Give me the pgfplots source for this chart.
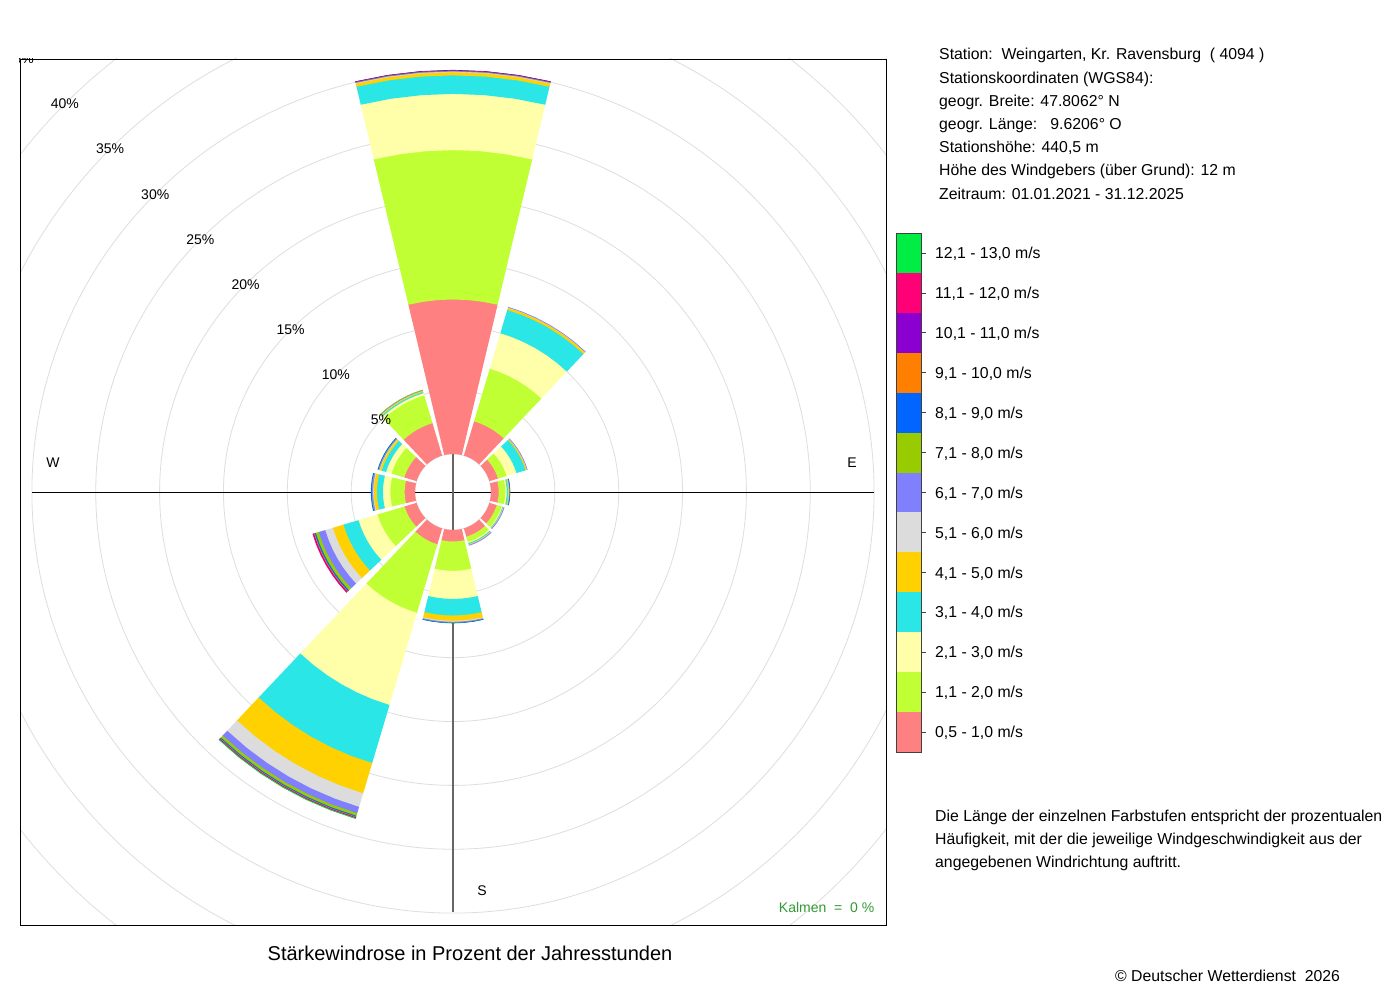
\documentclass[border=0pt]{standalone}
\usepackage{fontspec}
\setmainfont{Liberation Sans}
\usepackage{pgfplots}
\usepackage{pgfplotstable}
\pgfplotsset{compat=1.18}

\definecolor{wc1}{HTML}{FF8080}
\definecolor{wc2}{HTML}{C0FF33}
\definecolor{wc3}{HTML}{FFFFAA}
\definecolor{wc4}{HTML}{2AE6E6}
\definecolor{wc5}{HTML}{FFD100}
\definecolor{wc6}{HTML}{DCDCDC}
\definecolor{wc7}{HTML}{8080FF}
\definecolor{wc8}{HTML}{99CC00}
\definecolor{wc9}{HTML}{0066FF}
\definecolor{wc10}{HTML}{FF8000}
\definecolor{wc11}{HTML}{8B00D0}
\definecolor{wc12}{HTML}{FF0077}
\definecolor{wc13}{HTML}{00EE44}
\definecolor{kalm}{HTML}{339933}

% percentage of hours per direction (rows) and speed class (columns c1..c13)
\pgfplotstableread{
dir c1   c2   c3   c4   c5   c6   c7   c8   c9   c10  c11  c12  c13
0   12.1 11.7 4.4  1.45 0.25 0.05 0.03 0.02 0.02 0.01 0.01 0    0
30  2.8  4.3  2.9  1.9  0.18 0.02 0.01 0    0    0    0    0    0
60  0.7  0.71 0.8  0.74 0.1  0.02 0.01 0    0    0    0    0    0
90  0.6  0.52 0.11 0.1  0.06 0.03 0.03 0.01 0.01 0    0    0    0
120 0.6  0.4  0.07 0.05 0.03 0.02 0.02 0    0    0    0    0    0
150 0.68 0.43 0.09 0.08 0.05 0.02 0.02 0    0    0    0    0    0
180 0.9  2.3  2.2  1.3  0.41 0.08 0.05 0.02 0.01 0    0    0    0
210 1.3  5.6  7.53 4.75 2.47 1.11 0.52 0.21 0.08 0.05 0.03 0.03 0.02
240 0.98 2.22 1.55 1.23 0.86 0.63 0.53 0.24 0.1  0.06 0.04 0.03 0
270 0.81 1.12 0.58 0.47 0.24 0.06 0.08 0.03 0.03 0    0    0    0
300 1.0  1.05 0.45 0.35 0.15 0.05 0.05 0.03 0.02 0    0    0    0
330 2.65 2.27 0.18 0.1  0.07 0.03 0.03 0.01 0    0    0    0    0
}\windtable

\newcommand\fs[1]{\fontsize{#1}{#1}\selectfont}

% one annular piece: #1 direction (deg, clockwise from N), #2 inner r, #3 outer r, #4 colour
\newcommand\sectorpiece[4]{%
  \pgfmathsetmacro\aA{90-#1-13.4}%
  \pgfmathsetmacro\aB{\aA+4.4667}%
  \pgfmathsetmacro\aC{\aA+8.9333}%
  \pgfmathsetmacro\aD{\aA+13.4}%
  \pgfmathsetmacro\aE{\aA+17.8667}%
  \pgfmathsetmacro\aF{\aA+22.3333}%
  \pgfmathsetmacro\aG{\aA+26.8}%
  \edef\tmp{\noexpand\addplot[data cs=polar, fill=#4, draw=none, forget plot] coordinates {(\aA,#2) (\aA,#3) (\aB,#3) (\aC,#3) (\aD,#3) (\aE,#3) (\aF,#3) (\aG,#3) (\aG,#2) (\aF,#2) (\aE,#2) (\aD,#2) (\aC,#2) (\aB,#2)};}%
  \tmp
}

\newcommand\legentry[3]{%
  \fill[#2] (896,{767-39.92*#1}) rectangle (921,{767-39.92*(#1+1)});
  \draw[black!75, line width=0.7pt] (921,{767-39.92*(#1+0.5)}) -- (926,{767-39.92*(#1+0.5)});
  \node[anchor=base west, inner sep=0pt, font={\fs{15.8}}] at (935,{767-39.92*(#1+0.5)-5.7}) {#3};
}

\begin{document}
\begin{tikzpicture}[x=1pt,y=1pt]
\fill[white] (0,0) rectangle (1400,1000);
\path[use as bounding box] (0,0) rectangle (1400,1000);

\begin{axis}[
  at={(20,75)}, anchor=south west,
  scale only axis, width=866pt, height=866pt,
  xmin=-433, xmax=433, ymin=-433, ymax=433,
  axis line style={black, line width=0.8pt},
  axis on top,
  ticks=none,
  clip=true,
]
% rings
\pgfplotsforeachungrouped \p in {0,5,...,45}{%
  \pgfmathsetmacro\rr{38+12.77*\p}%
  \edef\tmp{\noexpand\draw[color=black!13, line width=0.8pt] (axis cs:0,0) circle[radius=\rr pt];}\tmp
}
% cross
\draw[black, line width=0.8pt] (axis cs:-421,0) -- (axis cs:421,0);
\draw[black!60, line width=1.3pt] (axis cs:0,-420) -- (axis cs:0,421);
% sectors
\pgfplotsforeachungrouped \row in {0,...,11}{%
  \pgfplotstablegetelem{\row}{dir}\of\windtable
  \let\dir\pgfplotsretval
  \def\cum{0}%
  \pgfplotsforeachungrouped \k in {1,...,13}{%
    \edef\colname{c\k}%
    \pgfplotstablegetelem{\row}{\colname}\of\windtable
    \let\val\pgfplotsretval
    \pgfmathsetmacro\rin{38+12.77*\cum}%
    \pgfmathsetmacro\cum{\cum+\val}%
    \pgfmathsetmacro\rout{38+12.77*\cum+0.5}%
    \pgfmathparse{\val>0.0001 ? 1 : 0}%
    \ifdim\pgfmathresult pt>0.5pt
      \sectorpiece{\dir}{\rin}{\rout}{wc\k}%
    \fi
  }%
}
% ring labels
\pgfplotsforeachungrouped \p in {5,10,...,45}{%
  \pgfmathsetmacro\dd{(38+12.77*\p)/sqrt(2)}%
  \edef\tmp{\noexpand\node[font={\noexpand\fs{14}}, inner sep=0pt] at (axis cs:-\dd,\dd) {\p\noexpand\%};}\tmp
}
\node[font={\fs{14}}] at (axis cs:-400,29) {W};
\node[font={\fs{14}}] at (axis cs:399,29) {E};
\node[font={\fs{14}}] at (axis cs:29,-399) {S};
\end{axis}

\node[anchor=base east, inner sep=0pt, text=kalm, font={\fs{14}}] at (874.5,87) {Kalmen\ \ =\ \ 0 \%};

% station info
\begin{scope}[every node/.style={anchor=base west, inner sep=0pt, font={\fs{15.8}}}]
\node at (939,940) {Station:\ \ Weingarten, Kr. Ravensburg\ \ ( 4094 )};
\node at (939,916.8) {Stationskoordinaten (WGS84):};
\node at (939,893.6) {geogr. Breite: 47.8062° N};
\node at (939,870.4) {geogr. Länge:\ \ \ 9.6206° O};
\node at (939,847.2) {Stationshöhe: 440,5 m};
\node at (939,824) {Höhe des Windgebers (über Grund): 12 m};
\node at (939,800.8) {Zeitraum: 01.01.2021 - 31.12.2025};
\node at (935,178.3) {Die Länge der einzelnen Farbstufen entspricht der prozentualen};
\node at (935,155.4) {Häufigkeit, mit der die jeweilige Windgeschwindigkeit aus der};
\node at (935,132.5) {angegebenen Windrichtung auftritt.};
\node at (1115,18.3) {© Deutscher Wetterdienst\ \ 2026};
\end{scope}

% legend
\legentry{0}{wc13}{12,1 - 13,0 m/s}
\legentry{1}{wc12}{11,1 - 12,0 m/s}
\legentry{2}{wc11}{10,1 - 11,0 m/s}
\legentry{3}{wc10}{9,1 - 10,0 m/s}
\legentry{4}{wc9}{8,1 - 9,0 m/s}
\legentry{5}{wc8}{7,1 - 8,0 m/s}
\legentry{6}{wc7}{6,1 - 7,0 m/s}
\legentry{7}{wc6}{5,1 - 6,0 m/s}
\legentry{8}{wc5}{4,1 - 5,0 m/s}
\legentry{9}{wc4}{3,1 - 4,0 m/s}
\legentry{10}{wc3}{2,1 - 3,0 m/s}
\legentry{11}{wc2}{1,1 - 2,0 m/s}
\legentry{12}{wc1}{0,5 - 1,0 m/s}
\draw[black!75, line width=0.8pt] (896,248.04) rectangle (921,767);

% title
\node[anchor=base, inner sep=0pt, font={\fs{20}}] at (470,39) {Stärkewindrose in Prozent der Jahresstunden};
\end{tikzpicture}
\end{document}
